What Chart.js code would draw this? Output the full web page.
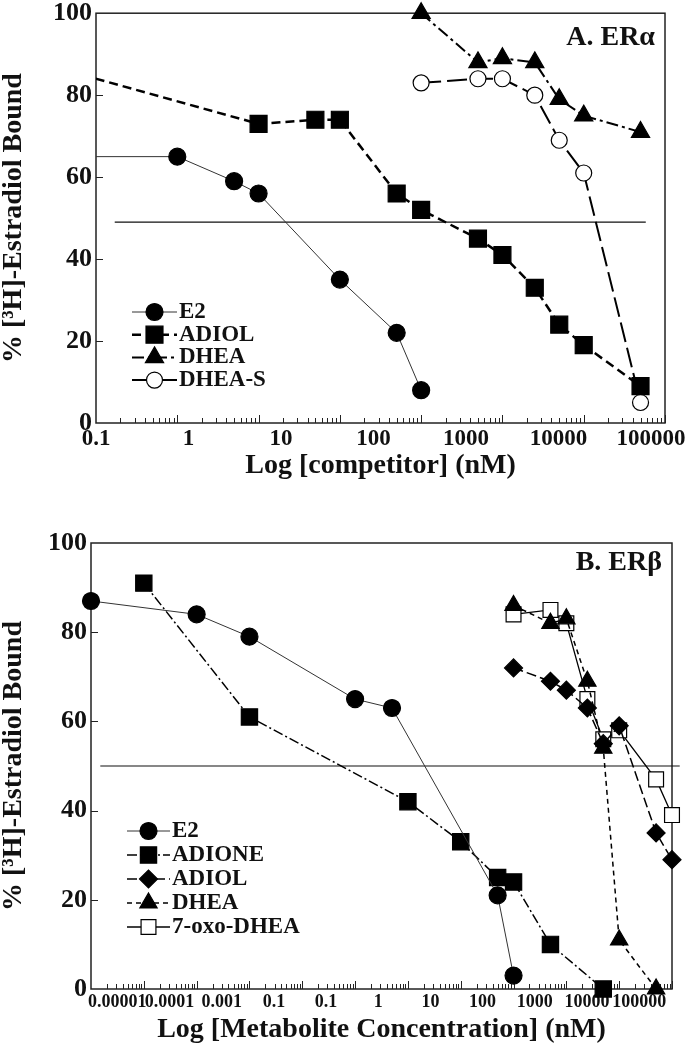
<!DOCTYPE html>
<html>
<head>
<meta charset="utf-8">
<script src="https://cdn.jsdelivr.net/npm/chart.js@4.4.1/dist/chart.umd.min.js"></script>
<style>
  html, body { margin: 0; padding: 0; background: #fff; }
  canvas { display: block; }
</style>
</head>
<body>
<canvas id="chartA" width="687" height="520"></canvas>
<canvas id="chartB" width="687" height="530"></canvas>
<script>
// panel A : ER alpha
const TICKS_A = ['0.1', '1', '10', '100', '1000', '10000', '100000'];
const A_E2_X = [0.01, 1, 5, 10, 100, 500, 1000];
const A_E2_Y = [65, 65, 59, 56, 35, 22, 8];
const A_ADIOL_X = [0.01, 10, 50, 100, 500, 1000, 5000, 10000, 25000, 50000, 100000, 500000];
const A_ADIOL_Y = [89.5, 73, 74, 74, 56, 52, 45, 41, 33, 24, 19, 9];
const A_DHEA_X = [1000, 5000, 10000, 25000, 50000, 100000, 500000];
const A_DHEA_Y = [100, 88, 89, 88, 79, 75, 71];
const A_DHEAS_X = [1000, 5000, 10000, 25000, 50000, 100000, 500000];
const A_DHEAS_Y = [83, 84, 84, 80, 69, 61, 5];
const A_HALF_X = [0.17, 580000];
const A_HALF_Y = [49, 49];

// panel B : ER beta
const TICKS_B = ['0.00001', '0.0001', '0.001', '0.1', '0.1', '1', '10', '100', '1000', '10000', '100000'];
const B_E2_X = [0.00001, 0.001, 0.01, 1, 5, 500, 1000];
const B_E2_Y = [87, 84, 79, 65, 63, 21, 3];
const B_ADIONE_X = [0.0001, 0.01, 10, 100, 500, 1000, 5000, 50000];
const B_ADIONE_Y = [91, 61, 42, 33, 25, 24, 10, 0];
const B_ADIOL_X = [1000, 5000, 10000, 25000, 50000, 100000, 500000, 1000000];
const B_ADIOL_Y = [72, 69, 67, 63, 55, 59, 35, 29];
const B_DHEA_X = [1000, 5000, 10000, 25000, 50000, 100000, 500000];
const B_DHEA_Y = [86, 82, 83, 69, 54, 11, 0];
const B_OXO_X = [1000, 5000, 10000, 25000, 50000, 100000, 500000, 1000000];
const B_OXO_Y = [84, 85, 82, 65, 56, 58, 47, 39];
const B_HALF_X = [0.000015, 1400000];
const B_HALF_Y = [50, 50];

const Y_TITLE = '% [³H]-Estradiol Bound';
const FONT = '"Liberation Serif", "Times New Roman", serif';

const series = (label, xs, ys, style) =>
    Object.assign({ label: label, data: xs.map((x, i) => ({ x: x, y: ys[i] })) }, style);

// frame, inward ticks, panel tag and the little legend
const decor = {
    id: 'decor',
    beforeDatasetsDraw(chart, args, opts) {
        const { ctx, chartArea: a, scales } = chart;
        const xs = scales.x, ys = scales.y;
        ctx.save();
        ctx.strokeStyle = '#222';
        ctx.lineWidth = 1.5;
        ctx.strokeRect(a.left, a.top, a.right - a.left, a.bottom - a.top);
        ctx.lineWidth = 1;
        const e0 = Math.round(Math.log10(xs.min));
        const e1 = Math.round(Math.log10(xs.max));
        ctx.beginPath();
        for (let e = e0; e < e1; e++) {
            for (let m = 2; m <= 10; m++) {
                const px = Math.round(xs.getPixelForValue(m * Math.pow(10, e))) + 0.5;
                const len = m === 10 ? 8 : 5;
                ctx.moveTo(px, a.bottom);
                ctx.lineTo(px, a.bottom - len);
            }
        }
        ys.ticks.forEach(t => {
            if (t.value <= ys.min || t.value >= ys.max) return;
            const py = Math.round(ys.getPixelForValue(t.value)) + 0.5;
            ctx.moveTo(a.left, py);
            ctx.lineTo(a.left + 7, py);
        });
        ctx.stroke();
        ctx.restore();
    },
    afterDraw(chart, args, opts) {
        const { ctx, chartArea: a } = chart;
        ctx.save();
        ctx.fillStyle = '#111';
        ctx.font = 'bold ' + opts.tagSize + 'px ' + FONT;
        ctx.textAlign = 'right';
        ctx.textBaseline = 'middle';
        ctx.fillText(opts.tag, a.right - opts.tagDx, a.top + opts.tagDy);

        const L = opts.legend;
        ctx.font = 'bold ' + L.size + 'px ' + FONT;
        ctx.textAlign = 'left';
        let y = a.bottom - L.dy;
        chart.data.datasets.filter(d => d.label).forEach(d => {
            const x0 = a.left + L.dx;
            ctx.setLineDash(d.borderDash || []);
            ctx.lineWidth = d.borderWidth;
            ctx.strokeStyle = d.borderColor;
            ctx.beginPath();
            ctx.moveTo(x0, y);
            ctx.lineTo(x0 + L.len, y);
            ctx.stroke();
            ctx.setLineDash([]);
            ctx.fillStyle = d.pointBackgroundColor;
            ctx.strokeStyle = d.pointBorderColor;
            ctx.lineWidth = d.pointBorderWidth;
            Chart.helpers.drawPoint(ctx, {
                pointStyle: d.pointStyle, radius: d.pointRadius,
                rotation: 0, borderWidth: d.pointBorderWidth
            }, x0 + L.len / 2, y);
            ctx.fillStyle = '#111';
            ctx.fillText(d.label, x0 + L.len + L.gap, y);
            y += L.row;
        });
        ctx.restore();
    }
};

const makeChart = (id, cfg) => new Chart(document.getElementById(id), {
    type: 'line',
    data: { datasets: cfg.datasets },
    plugins: [decor],
    options: {
        responsive: false,
        animation: false,
        events: [],
        devicePixelRatio: 1,
        layout: { padding: cfg.padding },
        plugins: {
            legend: { display: false },
            tooltip: { enabled: false },
            decor: cfg.decor
        },
        scales: {
            x: {
                type: 'logarithmic',
                min: cfg.xMin,
                max: cfg.xMax,
                display: false
            },
            xl: {
                type: 'linear',
                position: 'bottom',
                min: cfg.labMin,
                max: cfg.labMax,
                grid: { display: false, drawTicks: false },
                border: { display: false },
                afterBuildTicks: s => { s.ticks = cfg.ticks.map((t, i) => ({ value: i })); },
                afterFit: s => {
                    s.height = cfg.xHeight;
                    s.paddingLeft = 0; s.paddingRight = 0;
                },
                ticks: {
                    autoSkip: false,
                    maxRotation: 0,
                    padding: cfg.xTickPad,
                    color: '#111',
                    font: { family: FONT, size: cfg.xTickSize, weight: 'bold', lineHeight: 1.2 },
                    callback: (v, i) => cfg.ticks[i]
                },
                title: {
                    display: true,
                    text: cfg.xTitle,
                    color: '#111',
                    padding: { top: 0, bottom: cfg.xTitlePad },
                    font: { family: FONT, size: 28, weight: 'bold', lineHeight: 1.2 }
                }
            },
            y: {
                min: 0,
                max: 100,
                grid: { display: false, drawTicks: false },
                border: { display: false },
                afterFit: s => {
                    s.width = cfg.yWidth;
                    s.paddingTop = 0; s.paddingBottom = 0;
                },
                ticks: {
                    stepSize: 20,
                    padding: 4,
                    color: '#111',
                    font: { family: FONT, size: 26, weight: 'bold' }
                },
                title: {
                    display: true,
                    text: Y_TITLE,
                    color: '#111',
                    padding: 0,
                    font: { family: FONT, size: 28, weight: 'bold', lineHeight: 1.0 }
                }
            }
        }
    }
});

const clipA = { left: 0, top: false, right: false, bottom: false };
const dot = (style, r, fill) => ({
    pointStyle: style, pointRadius: r,
    pointBackgroundColor: fill, pointBorderColor: '#000', pointBorderWidth: 1.2
});

makeChart('chartA', {
    padding: { top: 11, right: 22, left: 0, bottom: 0 },
    xMin: 0.1, xMax: 1000000,
    labMin: 0, labMax: 6.15,
    ticks: TICKS_A,
    xHeight: 97, xTickPad: 2, xTickSize: 23, xTitlePad: 37,
    xTitle: 'Log [competitor] (nM)',
    yWidth: 96,
    decor: {
        tag: 'A. ERα', tagSize: 28, tagDx: 10, tagDy: 25,
        legend: { dx: 36, dy: 111, row: 22.7, len: 45, gap: 2, size: 23 }
    },
    datasets: [
        series('E2', A_E2_X, A_E2_Y, Object.assign({
            borderColor: '#333', borderWidth: 1, clip: clipA
        }, dot('circle', 8.5, '#000'))),
        series('ADIOL', A_ADIOL_X, A_ADIOL_Y, Object.assign({
            borderColor: '#000', borderWidth: 2.5, borderDash: [9, 5], clip: clipA
        }, dot('rect', 12, '#000'))),
        series('DHEA', A_DHEA_X, A_DHEA_Y, Object.assign({
            borderColor: '#000', borderWidth: 2, borderDash: [12, 4, 3, 4], clip: clipA
        }, dot('triangle', 10.5, '#000'))),
        series('DHEA-S', A_DHEAS_X, A_DHEAS_Y, Object.assign({
            borderColor: '#000', borderWidth: 2, borderDash: [20, 6], clip: clipA
        }, dot('circle', 8, '#fff'))),
        series('', A_HALF_X, A_HALF_Y, {
            borderColor: '#111', borderWidth: 1.2, pointRadius: 0, clip: clipA
        })
    ]
});

makeChart('chartB', {
    padding: { top: 23, right: 15, left: 0, bottom: 0 },
    xMin: 0.00001, xMax: 1000000,
    labMin: -0.505, labMax: 10.63,
    ticks: TICKS_B,
    xHeight: 61, xTickPad: 3, xTickSize: 18, xTitlePad: 3,
    xTitle: 'Log [Metabolite Concentration] (nM)',
    yWidth: 91,
    decor: {
        tag: 'B. ERβ', tagSize: 28, tagDx: 10, tagDy: 20,
        legend: { dx: 36, dy: 158, row: 24, len: 43, gap: 2, size: 23 }
    },
    datasets: [
        series('E2', B_E2_X, B_E2_Y, Object.assign({
            borderColor: '#333', borderWidth: 1, clip: false
        }, dot('circle', 8.5, '#000'))),
        series('ADIONE', B_ADIONE_X, B_ADIONE_Y, Object.assign({
            borderColor: '#000', borderWidth: 1.5, borderDash: [10, 3, 2, 3], clip: false
        }, dot('rect', 11.5, '#000'))),
        series('ADIOL', B_ADIOL_X, B_ADIOL_Y, Object.assign({
            borderColor: '#000', borderWidth: 1.5, borderDash: [10, 4], clip: false
        }, dot('rectRot', 9, '#000'))),
        series('DHEA', B_DHEA_X, B_DHEA_Y, Object.assign({
            borderColor: '#000', borderWidth: 1.5, borderDash: [5, 4], clip: false
        }, dot('triangle', 10, '#000'))),
        series('7-oxo-DHEA', B_OXO_X, B_OXO_Y, Object.assign({
            borderColor: '#000', borderWidth: 1.3, clip: false
        }, dot('rect', 10.5, '#fff'))),
        series('', B_HALF_X, B_HALF_Y, {
            borderColor: '#111', borderWidth: 1.2, pointRadius: 0, clip: false
        })
    ]
});
</script>
</body>
</html>
